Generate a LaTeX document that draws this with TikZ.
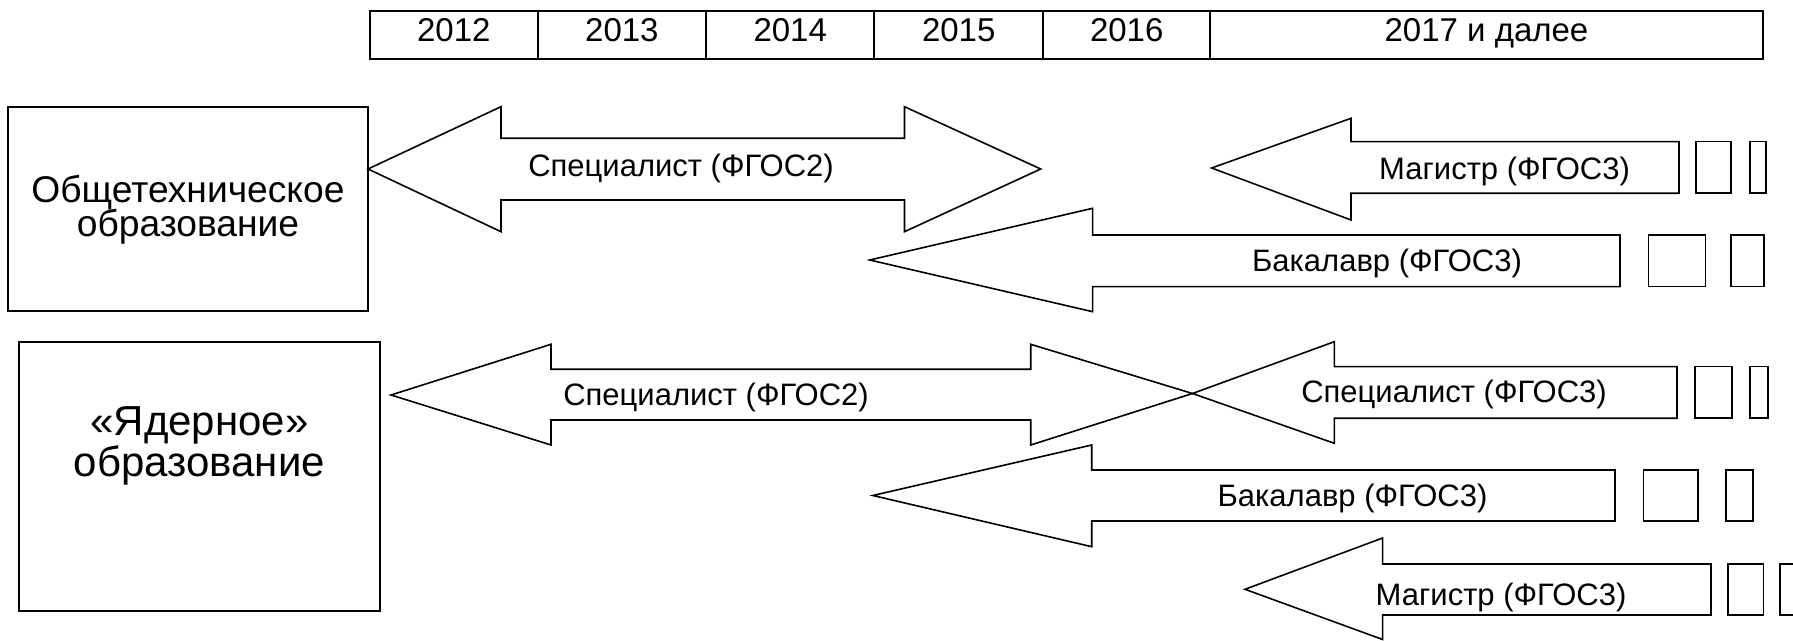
\documentclass[tikz,border=0pt]{standalone}
\usepackage{fontspec}
\setmainfont{Liberation Sans}
\begin{document}
\begin{tikzpicture}[x=0.5pt,y=-0.5pt,
  frame/.style={draw=black, line width=1pt},
  arrowshape/.style={draw=black, fill=white, line width=0.8pt, line join=miter},
  tail/.style={draw=black, line width=0.8pt},
  yearlbl/.style={font=\fontsize{16.5}{19}\selectfont, anchor=base, inner sep=0pt},
  lbl/.style={font=\fontsize{15.5}{18}\selectfont, anchor=base, inner sep=0pt},
  boxlblA/.style={font=\fontsize{18.6}{22}\selectfont, anchor=base, inner sep=0pt},
  boxlblB/.style={font=\fontsize{21}{24}\selectfont, anchor=base, inner sep=0pt}]
\clip (0,0) rectangle (1793,641);
\fill[white] (0,0) rectangle (1793,641);

% ---------- timeline table ----------
\draw[frame] (369.8,11) rectangle (1762.6,59);
\foreach \xx in {537.7,706,874.3,1043,1210.4} \draw[frame] (\xx,11) -- (\xx,59);
\node[yearlbl] (y2012) at (453.8,42) {2012};
\node[yearlbl] (y2013) at (621.9,42) {2013};
\node[yearlbl] (y2014) at (790.2,42) {2014};
\node[yearlbl] (y2015) at (958.7,42) {2015};
\node[yearlbl] (y2016) at (1126.7,42) {2016};
\node[yearlbl] (y2017) at (1486.5,42) {2017 и далее};

% ---------- left boxes ----------
\draw[frame] (8.4,106.7) rectangle (368,311);
\node[boxlblA] (boxA1) at (188,203) {Общетехническое};
\node[boxlblA] (boxA2) at (188,237) {образование};

\draw[frame] (19,341.7) rectangle (380,611);
\node[boxlblB] (boxB1) at (199.5,436) {«Ядерное»};
\node[boxlblB] (boxB2) at (199.5,476) {образование};

% ---------- upper group ----------
% Специалист (ФГОС2), double-headed
\draw[arrowshape] (368,169) -- (501,106.7) -- (501,138.3) -- (904.5,138.3) -- (904.5,106.7)
  -- (1040.7,169) -- (904.5,231.7) -- (904.5,200) -- (501,200) -- (501,231.7) -- cycle;
\node[lbl] (spec2a) at (681,176.5) {Специалист (ФГОС2)};

% Магистр (ФГОС3), upper
\draw[arrowshape] (1211.6,168) -- (1351,118.3) -- (1351,141.7) -- (1679,141.7) -- (1679,193.3)
  -- (1351,193.3) -- (1351,220) -- cycle;
\draw[tail] (1696,141.7) rectangle (1731,193.3);
\draw[tail] (1750,141.7) rectangle (1766,193.3);
\node[lbl] (maga) at (1504.5,179.5) {Магистр (ФГОС3)};

% Бакалавр (ФГОС3), upper
\draw[arrowshape] (869.7,260) -- (1092.6,208.3) -- (1092.6,235) -- (1620,235) -- (1620,286.7)
  -- (1092.6,286.7) -- (1092.6,311.7) -- cycle;
\draw[tail] (1648.6,235) rectangle (1705.6,286.7);
\draw[tail] (1731,235) rectangle (1764,286.7);
\node[lbl] (baka) at (1387,271.5) {Бакалавр (ФГОС3)};

% ---------- lower group ----------
% Специалист (ФГОС2), double-headed, lower
\coordinate (meet) at (1192.5,393.5);
\draw[arrowshape] (391,395) -- (551,344.3) -- (551,369.3) -- (1030.7,369.3) -- (1030.7,344.3)
  -- (meet) -- (1030.7,445) -- (1030.7,420) -- (551,420) -- (551,445) -- cycle;
\node[lbl] (spec2b) at (716,406) {Специалист (ФГОС2)};

% Специалист (ФГОС3)
\draw[arrowshape] (meet) -- (1334.3,341.7) -- (1334.3,366.7) -- (1677,366.7) -- (1677,418.3)
  -- (1334.3,418.3) -- (1334.3,443.3) -- cycle;
\draw[tail] (1695,366.7) rectangle (1732,418.3);
\draw[tail] (1750,366.7) rectangle (1767.7,418.3);
\node[lbl] (spec3) at (1454,403) {Специалист (ФГОС3)};

% Бакалавр (ФГОС3), lower
\draw[arrowshape] (872.8,495.5) -- (1091.7,445) -- (1091.7,470) -- (1615,470) -- (1615,521)
  -- (1091.7,521) -- (1091.7,546.7) -- cycle;
\draw[tail] (1643.6,470) rectangle (1698,521);
\draw[tail] (1726,470) rectangle (1753,521);
\node[lbl] (bakb) at (1352.5,506.5) {Бакалавр (ФГОС3)};

% Магистр (ФГОС3), lower
\draw[arrowshape] (1245,589.3) -- (1382.6,538) -- (1382.6,564) -- (1711,564) -- (1711,615)
  -- (1382.6,615) -- (1382.6,639.5) -- cycle;
\draw[tail] (1727.7,564) rectangle (1763.3,615);
\draw[tail] (1780,564) rectangle (1805,615);
\node[lbl] (magb) at (1501,605.5) {Магистр (ФГОС3)};
\end{tikzpicture}
\end{document}
